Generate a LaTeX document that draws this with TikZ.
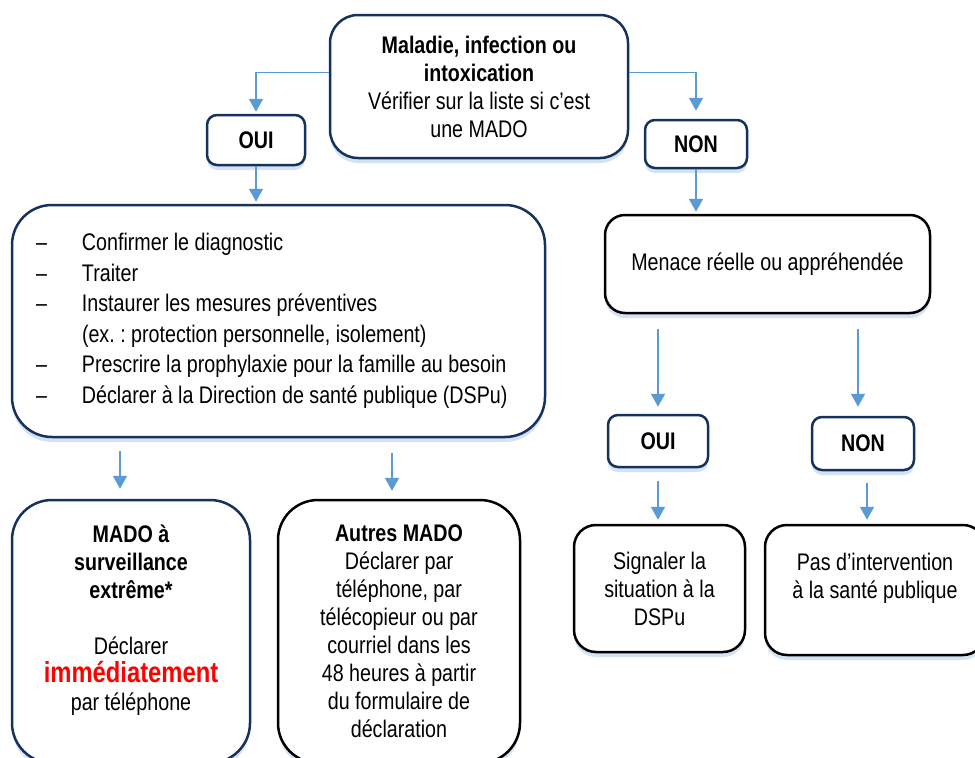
\documentclass[tikz,border=0pt]{standalone}
\usepackage{fontspec}
\setmainfont[FakeStretch=0.82]{Liberation Sans}
\usetikzlibrary{arrows.meta, shadows}
\frenchspacing

\definecolor{BordBleu}{HTML}{17315F}
\definecolor{FlecheBleu}{HTML}{5B9BD5}
\definecolor{OmbreBleu}{HTML}{C9DCF0}
\definecolor{TexteRouge}{HTML}{FF0000}

\newcommand{\tiretliste}{\makebox[46pt][l]{–}}

\tikzset{
  boite/.style={draw=BordBleu, line width=2.5pt, rounded corners=#1, fill=white,
    drop shadow={shadow xshift=0pt, shadow yshift=-5pt, fill=OmbreBleu, opacity=0.8},
    align=center, inner sep=0pt, font=\fontsize{24}{28}\selectfont},
  boite/.default=12pt,
  boitenoire/.style={boite=#1, draw=black},
  boitenoire/.default=12pt,
  etiquette/.style={boite=10pt, font=\fontsize{24}{28}\selectfont\bfseries},
  fleche/.style={draw=FlecheBleu, line width=1.8pt, shorten >=4pt,
    -{Triangle[width=14pt, length=13pt]}},
}

\begin{document}
\begin{tikzpicture}[x=1pt, y=-1pt]

    \useasboundingbox (0,0) rectangle (975,758);
    \clip (0,0) rectangle (975,758);

    % Question de départ
    \node[boite=28pt, minimum width=298pt, minimum height=143pt] (maladie) at (479,86.5)
        {\textbf{Maladie, infection ou}\\ \textbf{intoxication}\\ Vérifier sur la liste si c’est\\ une MADO};
    \node[etiquette, minimum width=98pt, minimum height=50pt] (ouiA) at (256,140) {OUI};
    \node[etiquette, minimum width=102pt, minimum height=48pt] (nonA) at (696,144) {NON};

    % Branche MADO
    \node[boite=40pt, minimum width=533pt, minimum height=232pt, text width=485pt, align=flush left,
          font=\fontsize{24}{30.5}\selectfont] (mesures) at (278.5,321) {%
        \tiretliste Confirmer le diagnostic\\
        \tiretliste Traiter\\
        \tiretliste Instaurer les mesures préventives\\
        \hspace*{46pt}(ex.~: protection personnelle, isolement)\\
        \tiretliste Prescrire la prophylaxie pour la famille au besoin\\
        \tiretliste Déclarer à la Direction de santé publique (DSPu)};
    \node[boite=40pt, minimum width=238pt, minimum height=263pt] (extreme) at (131,631.5)
        {\textbf{MADO à}\\ \textbf{surveillance}\\ \textbf{extrême*}\\[28pt] Déclarer\\
         {\fontsize{29}{28}\selectfont\bfseries\color{TexteRouge}immédiatement}\\ par téléphone\\ ~};
    \node[boitenoire=40pt, minimum width=242pt, minimum height=263pt] (autres) at (399,631.5)
        {\textbf{Autres MADO}\\ Déclarer par\\ téléphone, par\\ télécopieur ou par\\ courriel dans les\\
         48 heures à partir\\ du formulaire de\\ déclaration};

    % Branche non MADO
    \node[boitenoire=20pt, minimum width=325pt, minimum height=98pt] (menace) at (767.5,264)
        {Menace réelle ou appréhendée};
    \node[etiquette, minimum width=100pt, minimum height=52pt] (ouiB) at (658,441) {OUI};
    \node[etiquette, minimum width=102pt, minimum height=53pt] (nonB) at (863,443.5) {NON};
    \node[boitenoire=22pt, minimum width=171pt, minimum height=127pt] (signaler) at (659.5,588.5)
        {Signaler la\\ situation à la\\ DSPu};
    \node[boitenoire=22pt, minimum width=220pt, minimum height=130pt] (pas) at (875,590)
        {Pas d’intervention\\ à la santé publique\\ ~};

    % Flèches
    \draw[fleche, shorten >=2pt] ([yshift=14pt]maladie.west) -| (ouiA.north);
    \draw[fleche, shorten >=8pt] ([yshift=14pt]maladie.east) -| (nonA.north);
    \draw[fleche, shorten >=2pt] (ouiA.south) -- (ouiA.south |- mesures.north);
    \draw[fleche, shorten <=13pt, shorten >=10pt] ([xshift=-11pt]extreme.north |- mesures.south) -- ([xshift=-11pt]extreme.north);
    \draw[fleche, shorten <=15pt, shorten >=8pt] ([xshift=-7pt]autres.north |- mesures.south) -- ([xshift=-7pt]autres.north);
    \draw[fleche, shorten >=2pt] (nonA.south) -- (nonA.south |- menace.north);
    \draw[fleche, shorten <=15pt, shorten >=7pt] (menace.south -| ouiB.north) -- (ouiB.north);
    \draw[fleche, shorten <=15pt, shorten >=9pt] ([xshift=-5pt]nonB.north |- menace.south) -- ([xshift=-5pt]nonB.north);
    \draw[fleche, shorten <=13pt] (ouiB.south) -- (ouiB.south |- signaler.north);
    \draw[fleche, shorten <=12pt] ([xshift=4pt]nonB.south) -- ([xshift=4pt]nonB.south |- pas.north);
\end{tikzpicture}
\end{document}
